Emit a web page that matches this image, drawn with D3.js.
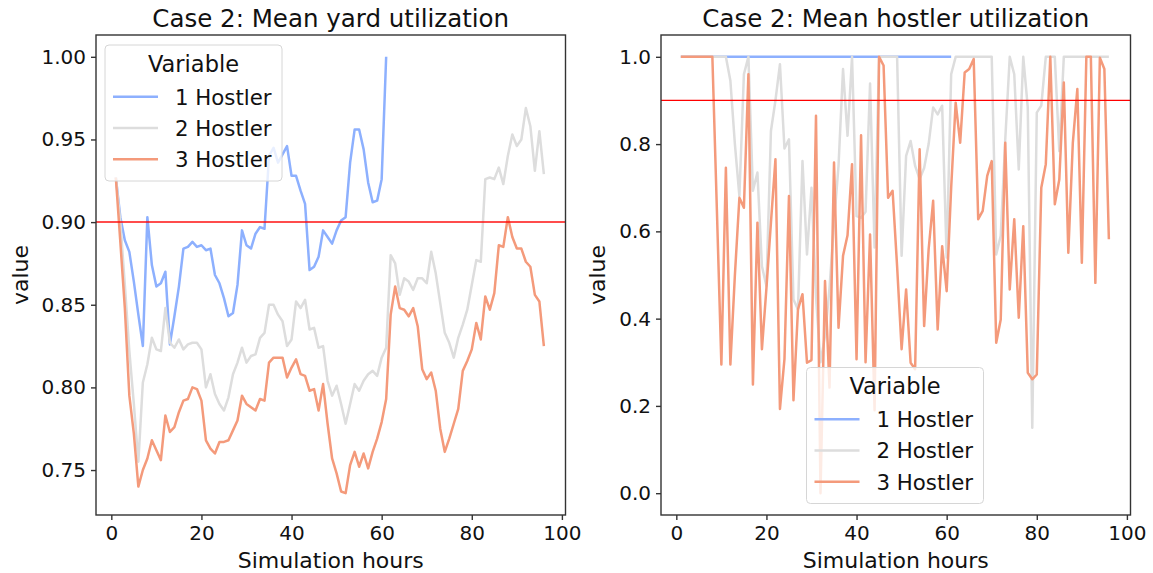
<!DOCTYPE html>
<html>
<head>
<meta charset="utf-8">
<script src="https://cdn.jsdelivr.net/npm/d3@7/dist/d3.min.js"></script>
<style>
  body { margin: 0; background: #fff; }
  svg { font-family: "DejaVu Sans", sans-serif; }
</style>
</head>
<body>
<svg id="chart" width="1153" height="573"></svg>
<script>
// hour index shared by every series (series are plotted from hour 1)
const hours = d3.range(1, 97)
const seriesNames = ['1 Hostler', '2 Hostler', '3 Hostler']
const seriesColors = ['#8db0fe', '#dddddd', '#f49a7b']

// Case 2: mean yard utilization
const yardOne = [0.927, 0.903, 0.889, 0.882, 0.864, 0.844, 0.825, 0.903, 0.874, 0.861,
  0.863, 0.870, 0.826, 0.843, 0.861, 0.884, 0.885, 0.888, 0.885, 0.886,
  0.883, 0.884, 0.868, 0.863, 0.854, 0.843, 0.845, 0.862, 0.895, 0.886,
  0.884, 0.893, 0.897, 0.896, 0.940, 0.945, 0.936, 0.941, 0.946, 0.928,
  0.928, 0.919, 0.911, 0.871, 0.873, 0.879, 0.895, 0.891, 0.887, 0.895,
  0.901, 0.903, 0.936, 0.956, 0.956, 0.944, 0.924, 0.912, 0.913, 0.926,
  1.000]
const yardTwo = [0.927, 0.900, 0.862, 0.822, 0.790, 0.755, 0.803, 0.814, 0.830, 0.823,
  0.822, 0.848, 0.827, 0.824, 0.829, 0.823, 0.826, 0.827, 0.827, 0.823,
  0.800, 0.808, 0.796, 0.790, 0.786, 0.794, 0.808, 0.815, 0.824, 0.815,
  0.819, 0.820, 0.830, 0.833, 0.850, 0.850, 0.844, 0.840, 0.825, 0.829,
  0.852, 0.848, 0.853, 0.835, 0.836, 0.824, 0.825, 0.804, 0.795, 0.801,
  0.790, 0.778, 0.790, 0.802, 0.798, 0.804, 0.808, 0.810, 0.807, 0.818,
  0.824, 0.880, 0.875, 0.856, 0.866, 0.864, 0.859, 0.866, 0.866, 0.863,
  0.882, 0.869, 0.851, 0.833, 0.827, 0.818, 0.830, 0.838, 0.847, 0.862,
  0.877, 0.876, 0.926, 0.927, 0.926, 0.933, 0.923, 0.940, 0.953, 0.946,
  0.950, 0.969, 0.958, 0.931, 0.955, 0.929]
const yardThree = [0.927, 0.888, 0.848, 0.795, 0.772, 0.740, 0.750, 0.757, 0.768, 0.762,
  0.756, 0.783, 0.773, 0.776, 0.785, 0.792, 0.793, 0.800, 0.799, 0.792,
  0.768, 0.763, 0.760, 0.767, 0.767, 0.768, 0.774, 0.780, 0.795, 0.790,
  0.788, 0.786, 0.793, 0.792, 0.815, 0.818, 0.818, 0.818, 0.806, 0.812,
  0.817, 0.808, 0.807, 0.798, 0.799, 0.786, 0.802, 0.778, 0.757, 0.748,
  0.737, 0.736, 0.753, 0.761, 0.752, 0.760, 0.751, 0.761, 0.769, 0.779,
  0.793, 0.844, 0.861, 0.848, 0.847, 0.843, 0.848, 0.837, 0.811, 0.805,
  0.809, 0.798, 0.775, 0.761, 0.769, 0.778, 0.787, 0.810, 0.816, 0.823,
  0.839, 0.829, 0.855, 0.847, 0.857, 0.886, 0.885, 0.903, 0.891, 0.884,
  0.884, 0.876, 0.873, 0.856, 0.852, 0.825]

// Case 2: mean hostler utilization
const hostOne = [1, 1, 1, 1, 1, 1, 1, 1, 1, 1,
  1, 1, 1, 1, 1, 1, 1, 1, 1, 1,
  1, 1, 1, 1, 1, 1, 1, 1, 1, 1,
  1, 1, 1, 1, 1, 1, 1, 1, 1, 1,
  1, 1, 1, 1, 1, 1, 1, 1, 1, 1,
  1, 1, 1, 1, 1, 1, 1, 1, 1, 1,
  1]
const hostTwo = [1, 1, 1, 1, 1, 1, 1, 1, 1, 1,
  1, 0.945, 0.80, 0.681, 0.96, 1, 0.693, 0.735, 0.52, 0.475,
  0.83, 0.90, 0.983, 0.79, 0.811, 0.444, 0.421, 0.761, 0.547, 0.70,
  0.45, 0.30, 0.36, 0.47, 0.62, 0.75, 0.972, 0.819, 1, 0.635,
  0.631, 0.645, 0.939, 0.563, 1, 1, 1, 1, 1, 0.544,
  0.773, 0.807, 0.75, 0.72, 0.745, 0.80, 0.884, 0.868, 0.888, 0.54,
  0.96, 1, 1, 1, 1, 1, 1, 1, 1, 1,
  0.547, 0.59, 0.81, 1, 0.96, 0.742, 1, 0.884, 0.15, 0.872,
  0.888, 1, 1, 1, 0.784, 1, 1, 1, 1, 1,
  1, 1, 1, 1, 1, 1]
const hostThree = [1, 1, 1, 1, 1, 1, 1, 1, 0.65, 0.295,
  0.746, 0.295, 0.50, 0.677, 0.654, 0.96, 0.249, 0.62, 0.33, 0.47,
  0.62, 0.765, 0.193, 0.307, 0.681, 0.213, 0.421, 0.456, 0.299, 0.305,
  0.865, 0.0, 0.486, 0.242, 0.758, 0.379, 0.544, 0.591, 0.754, 0.307,
  0.82, 0.30, 0.593, 0.19, 1, 0.98, 0.677, 0.693, 0.52, 0.33,
  0.467, 0.299, 0.284, 0.788, 0.383, 0.559, 0.67, 0.375, 0.566, 0.463,
  0.70, 0.895, 0.803, 0.964, 0.972, 0.995, 0.628, 0.647, 0.727, 0.761,
  0.345, 0.398, 0.803, 0.467, 0.628, 0.402, 0.612, 0.276, 0.261, 0.272,
  0.70, 0.754, 1, 0.662, 0.719, 0.941, 0.551, 0.803, 0.926, 0.528,
  1, 1, 0.482, 0.998, 0.972, 0.582]

const xTicks = [0, 20, 40, 60, 80, 100]
const yardTicks = [0.75, 0.80, 0.85, 0.90, 0.95, 1.00]
const hostTicks = [0.0, 0.2, 0.4, 0.6, 0.8, 1.0]
const threshold = 0.9

const svg = d3.select('#chart')
const TOP = 35, BOTTOM = 515

function drawPanel({ x0, x1, title, yDomain, yTicks, yFormat, data, legend, redStyle, id, ylabelX }) {
  const x = d3.scaleLinear().domain([-3.4, 100.8]).range([x0, x1])
  const y = d3.scaleLinear().domain(yDomain).range([BOTTOM, TOP])
  const g = svg.append('g')

  g.append('clipPath').attr('id', id)
    .append('rect').attr('x', x0).attr('y', TOP).attr('width', x1 - x0).attr('height', BOTTOM - TOP)

  // x axis
  const xAxis = g.append('g')
    .attr('transform', `translate(0,${BOTTOM})`)
    .call(d3.axisBottom(x).tickValues(xTicks).tickSize(5).tickPadding(6).tickFormat(d3.format('d')))
  xAxis.select('.domain').remove()
  xAxis.selectAll('line').attr('stroke', '#333').attr('stroke-width', 1.4)
  xAxis.selectAll('text').attr('font-size', 20).attr('fill', '#111').attr('font-family', 'DejaVu Sans')

  // y axis
  const yAxis = g.append('g')
    .attr('transform', `translate(${x0},0)`)
    .call(d3.axisLeft(y).tickValues(yTicks).tickSize(5).tickPadding(5).tickFormat(d3.format(yFormat)))
  yAxis.select('.domain').remove()
  yAxis.selectAll('line').attr('stroke', '#333').attr('stroke-width', 1.4)
  yAxis.selectAll('text').attr('font-size', 20).attr('fill', '#111').attr('font-family', 'DejaVu Sans')

  const line = d3.line()
    .x((d, i) => x(hours[i]))
    .y(d => y(d))

  const plot = g.append('g').attr('clip-path', `url(#${id})`)
  data.forEach((values, i) => {
    plot.append('path')
      .datum(values)
      .attr('d', line)
      .attr('fill', 'none')
      .attr('stroke', seriesColors[i])
      .attr('stroke-width', 2.5)
      .attr('stroke-linejoin', 'round')
  })

  plot.append('line')
    .attr('x1', x0).attr('x2', x1)
    .attr('y1', y(threshold)).attr('y2', y(threshold))
    .attr('stroke', '#ff0000')
    .attr('stroke-width', redStyle.width)
    .attr('stroke-opacity', redStyle.opacity)

  // spines
  g.append('rect')
    .attr('x', x0).attr('y', TOP).attr('width', x1 - x0).attr('height', BOTTOM - TOP)
    .attr('fill', 'none').attr('stroke', '#333').attr('stroke-width', 1.4)

  g.append('text')
    .attr('x', (x0 + x1) / 2).attr('y', 27)
    .attr('text-anchor', 'middle').attr('font-size', 24.5).attr('fill', '#111')
    .text(title)

  g.append('text')
    .attr('x', (x0 + x1) / 2).attr('y', 568)
    .attr('text-anchor', 'middle').attr('font-size', 22).attr('fill', '#111')
    .text('Simulation hours')

  g.append('text')
    .attr('transform', `translate(${ylabelX},${(TOP + BOTTOM) / 2}) rotate(-90)`)
    .attr('text-anchor', 'middle').attr('font-size', 22).attr('fill', '#111')
    .text('value')

  // legend
  const lg = g.append('g').attr('transform', `translate(${legend[0]},${legend[1]})`)
  lg.append('rect')
    .attr('width', 177).attr('height', 136).attr('rx', 4)
    .attr('fill', '#fff').attr('fill-opacity', 0.8)
    .attr('stroke', '#d6d6d6').attr('stroke-width', 1)
  lg.append('text')
    .attr('x', 88.5).attr('y', 26.7)
    .attr('text-anchor', 'middle').attr('font-size', 22.5).attr('fill', '#111')
    .text('Variable')
  seriesNames.forEach((name, i) => {
    const cy = 51.7 + i * 31.3
    lg.append('line')
      .attr('x1', 8).attr('x2', 53).attr('y1', cy).attr('y2', cy)
      .attr('stroke', seriesColors[i]).attr('stroke-width', 2.5)
    lg.append('text')
      .attr('x', 70).attr('y', cy + 7.8)
      .attr('font-size', 21.3).attr('fill', '#111')
      .text(name)
  })
}

drawPanel({
  id: 'clipYard',
  x0: 96, x1: 565.5,
  title: 'Case 2: Mean yard utilization',
  yDomain: [0.7228, 1.0132],
  yTicks: yardTicks,
  yFormat: '.2f',
  data: [yardOne, yardTwo, yardThree],
  legend: [105, 45],
  redStyle: { width: 2, opacity: 0.7 },
  ylabelX: 28
})

drawPanel({
  id: 'clipHost',
  x0: 661, x1: 1130.5,
  title: 'Case 2: Mean hostler utilization',
  yDomain: [-0.05, 1.05],
  yTicks: hostTicks,
  yFormat: '.1f',
  data: [hostOne, hostTwo, hostThree],
  legend: [806.5, 367.5],
  redStyle: { width: 1.3, opacity: 1 },
  ylabelX: 605
})
</script>
</body>
</html>
